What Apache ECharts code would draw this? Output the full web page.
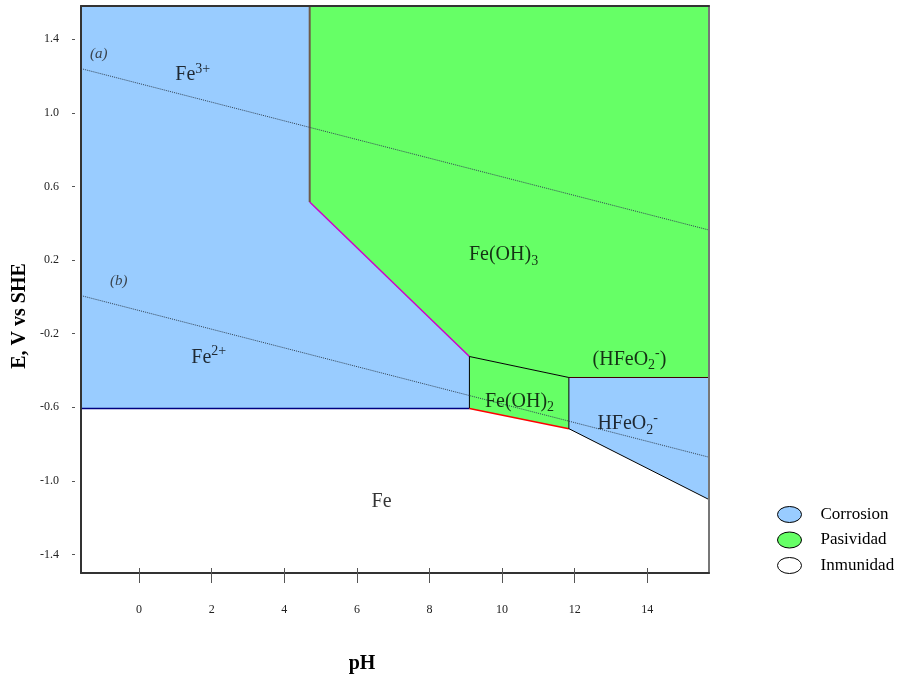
<!DOCTYPE html>
<html><head><meta charset="utf-8">
<script src="https://cdn.jsdelivr.net/npm/echarts@6/dist/echarts.min.js"></script>
<style>html,body{margin:0;padding:0;background:#fff}#c{width:902px;height:679px}</style>
</head><body><div id="c"></div>
<script>
// ---- data ----
const xTicks = [0, 2, 4, 6, 8, 10, 12, 14];
const yTicks = [-1.4, -1.0, -0.6, -0.2, 0.2, 0.6, 1.0, 1.4];
const legendNames = ['Corrosion', 'Pasividad', 'Inmunidad'];

// regions (pH, E)
const corrosionFe = [[-1.6, 1.58], [4.7, 1.58], [4.7, 0.515], [9.1, -0.324], [9.1, -0.606], [-1.6, -0.606]];
const corrosionHFeO2 = [[11.84, -0.438], [15.7, -0.438], [15.7, -1.101], [11.84, -0.716]];
const passiveFeOH3 = [[4.7, 1.58], [15.7, 1.58], [15.7, -0.438], [11.84, -0.438], [9.1, -0.324], [4.7, 0.515]];
const passiveFeOH2 = [[9.1, -0.324], [11.84, -0.438], [11.84, -0.716], [9.1, -0.606]];
const immunityFe = [[-1.6, -0.606], [9.1, -0.606], [11.84, -0.716], [15.7, -1.101], [15.7, -1.5], [-1.6, -1.5]];

// water lines
const lineA = [[-1.6, 1.24], [15.7, 0.363]];
const lineB = [[-1.6, 0.007], [15.7, -0.871]];

// boundaries
const bFe3FeOH3 = [[4.7, 1.58], [4.7, 0.515]];
const bFe2FeOH3 = [[4.7, 0.515], [9.1, -0.324]];
const bFeFe2 = [[-1.6, -0.606], [9.1, -0.606]];
const bFe2FeOH2 = [[9.1, -0.324], [9.1, -0.606]];
const bFeOH2FeOH3 = [[9.1, -0.324], [11.84, -0.438]];
const bFeFeOH2 = [[9.1, -0.606], [11.84, -0.716]];
const bFeOH2HFeO2 = [[11.84, -0.438], [11.84, -0.716]];
const bFeOH3HFeO2 = [[11.84, -0.438], [15.7, -0.438]];
const bFeHFeO2 = [[11.84, -0.716], [15.7, -1.101]];

// labels: [pH, E, text]
const regionLabels = [
  [-1.11, 1.318, '{it|(a)}'],
  [1.48, 1.205, 'Fe{sup|3+}'],
  [-0.56, 0.087, '{it|(b)}'],
  [1.92, -0.33, 'Fe{sup|2+}'],
  [10.04, 0.228, 'Fe(OH){sub|3}'],
  [13.51, -0.34, '(HFeO{sub|2}{sup|-})'],
  [10.48, -0.569, 'Fe(OH){sub|2}'],
  [13.46, -0.69, 'HFeO{sub|2}{sup|-}'],
  [6.68, -1.112, 'Fe']
];

// ---- chart ----
const FONT = 'Liberation Serif';
const X_MIN = -1.6, X_MAX = 15.7, Y_MIN = -1.5, Y_MAX = 1.58;

function polySeries(name, color, polys, z) {
  return {
    type: 'custom', name: name, silent: true, z: z,
    itemStyle: { color: color },
    data: polys.map(p => p[0]),
    renderItem: function (params, api) {
      const pts = polys[params.dataIndex].map(p => api.coord(p));
      return { type: 'polygon', shape: { points: pts }, style: { fill: color } };
    }
  };
}
function segSeries(data, color, width, type) {
  return {
    type: 'line', data: data, silent: true, symbol: 'none', z: 5,
    lineStyle: { color: color, width: width, type: type || 'solid' }
  };
}
function hidden() { return { show: false }; }

const chart = echarts.init(document.getElementById('c'));
chart.setOption({
  animation: false,
  backgroundColor: '#fff',
  grid: { left: 81, right: 193, top: 6, bottom: 106 },
  xAxis: [
    { type: 'value', min: X_MIN, max: X_MAX, position: 'bottom', z: 20,
      axisLine: { show: true, onZero: false, lineStyle: { color: '#333', width: 2 } },
      axisTick: hidden(), splitLine: hidden(),
      axisLabel: { customValues: xTicks, margin: 31, fontFamily: FONT, fontSize: 12, color: '#222' } },
    { type: 'value', min: X_MIN, max: X_MAX, position: 'bottom', offset: -5, z: 20,
      axisLine: { show: false, onZero: false }, splitLine: hidden(), axisLabel: hidden(),
      axisTick: { show: true, customValues: xTicks, length: 15, lineStyle: { color: '#555', width: 1 } } },
    { type: 'value', min: X_MIN, max: X_MAX, position: 'top', z: 20,
      axisLine: { show: true, onZero: false, lineStyle: { color: '#333', width: 2 } },
      axisTick: hidden(), splitLine: hidden(), axisLabel: hidden() }
  ],
  yAxis: [
    { type: 'value', min: Y_MIN, max: Y_MAX, position: 'left', z: 20,
      axisLine: { show: true, onZero: false, lineStyle: { color: '#333', width: 2 } },
      axisTick: hidden(), splitLine: hidden(), axisLabel: hidden() },
    { type: 'value', min: Y_MIN, max: Y_MAX, position: 'left', offset: 6, z: 20,
      axisLine: { show: false, onZero: false }, splitLine: hidden(),
      axisTick: { show: true, customValues: yTicks, length: 3, lineStyle: { color: '#555', width: 1 } },
      axisLabel: { customValues: yTicks, margin: 16, fontFamily: FONT, fontSize: 12, color: '#222',
        formatter: v => v.toFixed(1) } },
    { type: 'value', min: Y_MIN, max: Y_MAX, position: 'right', z: 20,
      axisLine: { show: true, onZero: false, lineStyle: { color: '#777', width: 2 } },
      axisTick: hidden(), splitLine: hidden(), axisLabel: hidden() }
  ],
  legend: {
    data: legendNames, orient: 'vertical', left: 777, top: 506, padding: 0,
    itemWidth: 24, itemHeight: 16, itemGap: 8.5,
    icon: 'path://M0,8 A12,8 0 1,0 24,8 A12,8 0 1,0 0,8 Z',
    itemStyle: { borderColor: '#000', borderWidth: 1 },
    textStyle: { fontFamily: FONT, fontSize: 17, color: '#000', padding: [0, 0, 0, 14] },
    selectedMode: false
  },
  graphic: [
    { type: 'text', x: 20, y: 316, rotation: Math.PI / 2,
      style: { text: 'E, V vs SHE', font: 'bold 20px "Liberation Serif"', fill: '#000', align: 'center', verticalAlign: 'middle' } },
    { type: 'text', x: 362, y: 664,
      style: { text: 'pH', font: 'bold 20px "Liberation Serif"', fill: '#000', align: 'center', verticalAlign: 'middle' } }
  ],
  series: [
    polySeries('Inmunidad', '#ffffff', [immunityFe], 1),
    polySeries('Corrosion', '#99ccff', [corrosionFe, corrosionHFeO2], 2),
    polySeries('Pasividad', '#66ff66', [passiveFeOH3, passiveFeOH2], 2),
    segSeries(bFe3FeOH3, '#6e5a48', 2),
    segSeries(bFe2FeOH3, '#cc00cc', 1.5),
    segSeries(bFeFe2, '#000080', 1.5),
    segSeries(bFe2FeOH2, '#000000', 1),
    segSeries(bFeOH2FeOH3, '#000000', 1),
    segSeries(bFeFeOH2, '#ff0000', 1.5),
    segSeries(bFeOH2HFeO2, '#000000', 1),
    segSeries(bFeOH3HFeO2, '#400000', 1),
    segSeries(bFeHFeO2, '#000000', 1),
    segSeries(lineA, '#334455', 1, 'dotted'),
    segSeries(lineB, '#334455', 1, 'dotted'),
    {
      type: 'scatter', silent: true, z: 10, symbolSize: 1,
      itemStyle: { color: 'rgba(0,0,0,0)' },
      data: regionLabels.map(d => ({ value: [d[0], d[1]], label: { formatter: d[2] } })),
      label: {
        show: true, position: 'inside', color: '#000', fontFamily: FONT, fontSize: 20, lineHeight: 26,
        rich: {
          sup: { fontFamily: FONT, fontSize: 14, lineHeight: 14, verticalAlign: 'top', color: '#000' },
          sub: { fontFamily: FONT, fontSize: 14, lineHeight: 14, verticalAlign: 'bottom', color: '#000' },
          it: { fontFamily: FONT, fontSize: 15, fontStyle: 'italic', color: '#222' }
        }
      }
    }
  ]
});
</script></body></html>
